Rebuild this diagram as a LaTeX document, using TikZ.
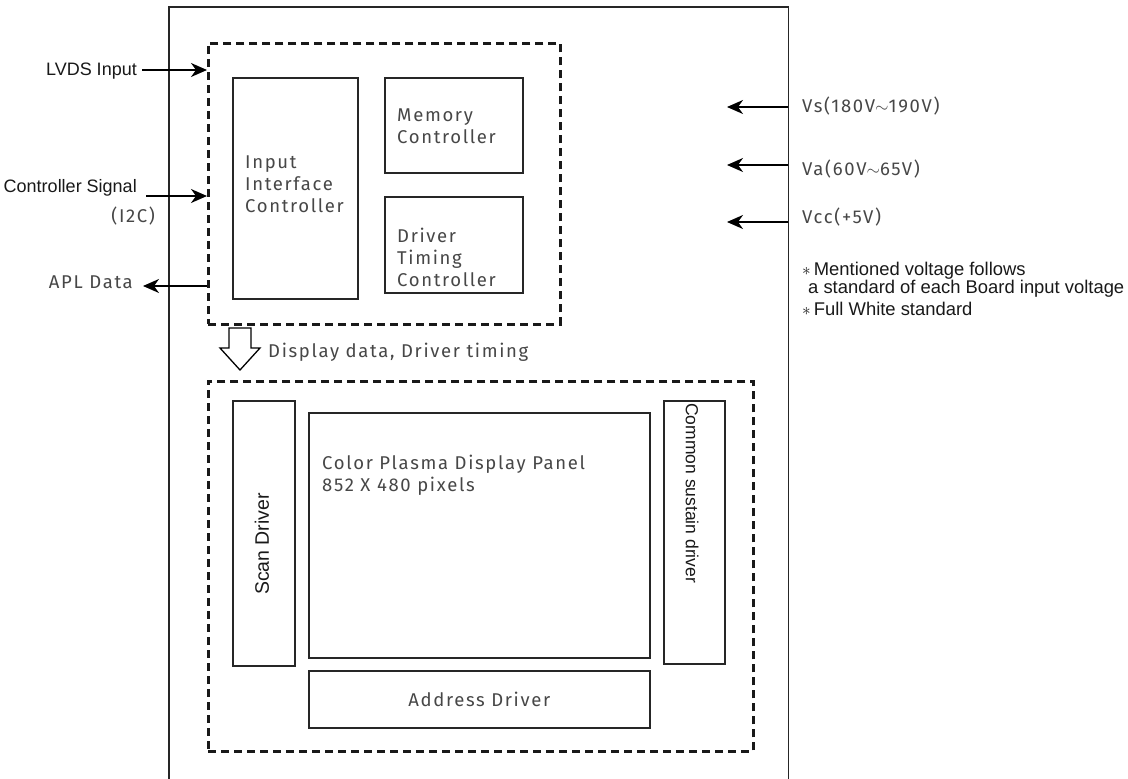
\documentclass[tikz,border=0pt]{standalone}
\usepackage{fontspec}
\setmainfont{Liberation Sans}
\newfontfamily\thinfont{Fira Sans}[LetterSpace=9]
\usetikzlibrary{arrows.meta}
\tikzset{
  box/.style={draw=black!85, line width=1.5pt, anchor=north west, inner sep=0pt},
  dashbox/.style={draw=black!90, line width=2.6pt, dash pattern=on 8pt off 5pt, anchor=north west, inner sep=0pt},
  frame/.style={draw=black!85, line width=1.6pt},
  arr/.style={line width=1.5pt, -{Stealth[length=16pt,width=14pt,inset=5pt]}},
  thin/.style={font=\thinfont\fontsize{18.5}{22}\selectfont, text=black!72, inner sep=0pt, align=left},
  ariel/.style={font=\fontsize{18}{19}\selectfont, text=black!90, inner sep=0pt},
  note/.style={font=\fontsize{18.4}{16.5}\selectfont, text=black!90, inner sep=0pt, anchor=west, align=left},
  hollow/.style={draw=black, line width=1.3pt, fill=white},
}
\newcommand{\notestar}{{\fontsize{17}{17}\selectfont$\ast$}}
\begin{document}
\begin{tikzpicture}[x=1pt,y=-1pt]
\useasboundingbox[fill=white] (0,0) rectangle (1128,779);
% outer frame
\node[anchor=north west, minimum width=619pt, minimum height=800pt, inner sep=0pt] (outer) at (169,7) {};
\draw[frame] (outer.south west) -- (outer.north west) -- (outer.north east) -- (outer.south east);
% controller group
\node[dashbox, minimum width=352pt, minimum height=281pt] (ctrl) at (207,42) {};
\node[box, minimum width=125pt, minimum height=221pt] (iic) at (232,77) {};
\node[thin, anchor=west] (iict) at (245,184) {Input\\Interface\\Controller};
\node[box, minimum width=138pt, minimum height=95pt] (mem) at (384,77) {};
\node[thin, anchor=west] (memt) at (397,126) {Memory\\Controller};
\node[box, minimum width=138pt, minimum height=96pt] (dtc) at (384,196) {};
\node[thin, anchor=west] (dtct) at (397,257) {Driver\\Timing\\Controller};
% hollow arrow
\node[inner sep=0pt] (ha) at (240,349) {};
\draw[hollow] (229,328) -- (251,328) -- (251,348) -- (260,348) -- (240,370) -- (220,348) -- (229,348) -- cycle;
\node[thin, anchor=west] (hat) at (268,352) {Display data, Driver timing};
% panel group
\node[dashbox, minimum width=545pt, minimum height=370pt] (pnl) at (207,380) {};
\node[box, minimum width=62pt, minimum height=265pt] (scan) at (232,400) {};
\node[ariel, rotate=90, font=\fontsize{19.5}{20}\selectfont] (scant) at (262,544) {Scan Driver};
\node[box, minimum width=341pt, minimum height=245pt] (pdp) at (308,412) {};
\node[thin, anchor=west] (pdpt) at (322,475) {Color Plasma Display Panel\\852 X 480 pixels};
\node[box, minimum width=61pt, minimum height=263pt] (csd) at (663,400) {};
\node[ariel, rotate=-90, anchor=west, font=\fontsize{17.5}{18}\selectfont] (csdt) at (692,403) {Common sustain driver};
\node[box, minimum width=341pt, minimum height=57pt] (addr) at (308,670) {};
\node[thin] (addrt) at (addr.center) {Address Driver};
% left signals
\node[ariel, anchor=east] (lvds) at (137,71) {LVDS Input};
\coordinate (lvdsS) at (142,70);
\draw[arr] (lvdsS) -- (lvdsS -| ctrl.west);
\node[ariel, anchor=east] (cs) at (137,188) {Controller Signal};
\node[thin, anchor=east] (i2c) at (155,216) {(I2C)};
\coordinate (csS) at (146,196);
\draw[arr] (csS) -- (csS -| ctrl.west);
\node[thin, anchor=east] (apl) at (133,282) {APL Data};
\coordinate (aplE) at (143,286);
\draw[arr] (aplE -| ctrl.west) -- (aplE);
% right voltages
\coordinate (vsE) at (727,107);
\coordinate (vaE) at (727,165);
\coordinate (vcE) at (727,222);
\draw[arr] (vsE -| outer.east) -- (vsE);
\draw[arr] (vaE -| outer.east) -- (vaE);
\draw[arr] (vcE -| outer.east) -- (vcE);
\node[thin, anchor=west] (vs) at (802,106) {Vs(180V$\sim$190V)};
\node[thin, anchor=west] (va) at (802,169) {Va(60V$\sim$65V)};
\node[thin, anchor=west] (vc) at (802,217) {Vcc(+5V)};
% notes
\node[note] (n1) at (802,280) {\notestar\,Mentioned voltage follows\\\hspace*{6pt}a standard of each Board input voltage};
\node[note] (n3) at (802,309) {\notestar\,Full White standard};
\end{tikzpicture}
\end{document}
